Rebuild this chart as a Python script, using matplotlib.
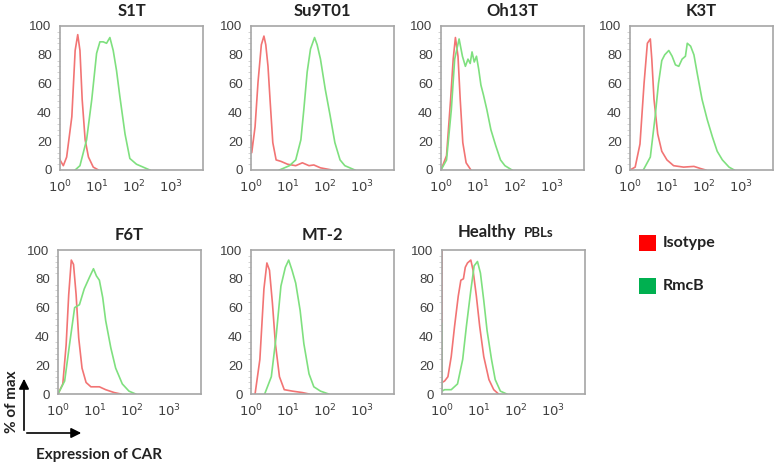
import numpy as np
import matplotlib
matplotlib.use("Agg")
import matplotlib.pyplot as plt
from matplotlib.patches import Rectangle, FancyArrowPatch
from matplotlib.ticker import FixedLocator, NullFormatter

# panel names
names = ["S1T", "Su9T01", "Oh13T", "K3T", "F6T", "MT-2", "Healthy"]

# curves: x in log10 decades, y in % of max
iso_x = [
    [0.0, 0.09, 0.18, 0.32, 0.41, 0.48, 0.54, 0.60, 0.68, 0.77, 0.90, 1.04],
    [0.0, 0.02, 0.11, 0.19, 0.28, 0.35, 0.40, 0.46, 0.52, 0.59, 0.68, 0.81, 0.99, 1.21, 1.39, 1.57, 1.70, 1.88, 2.19],
    [0.0, 0.15, 0.26, 0.33, 0.39, 0.46, 0.52, 0.59, 0.68, 0.81],
    [0.0, 0.14, 0.27, 0.38, 0.47, 0.55, 0.59, 0.65, 0.75, 0.86, 1.0, 1.18, 1.45, 1.73, 1.91, 2.05],
    [0.0, 0.13, 0.22, 0.29, 0.36, 0.42, 0.49, 0.56, 0.65, 0.76, 0.89, 1.12, 1.29, 1.52, 1.70],
    [0.11, 0.24, 0.35, 0.43, 0.50, 0.58, 0.66, 0.77, 0.90, 1.12, 1.39, 1.57],
    [0.0, 0.0, 0.07, 0.16, 0.25, 0.34, 0.44, 0.51, 0.58, 0.63, 0.69, 0.78, 0.84, 0.93, 1.02, 1.13, 1.27, 1.40, 1.53],
]
iso_y = [
    [7, 3, 9, 37, 83, 94, 83, 49, 21, 9, 2, 0],
    [24, 12, 30, 61, 87, 93, 87, 72, 47, 19, 7, 6, 4, 3, 5, 3, 3.5, 1.5, 0],
    [0, 10, 49, 77, 92, 79, 49, 19, 5, 0],
    [0, 2, 18, 60, 88, 91, 77, 49, 25, 13, 7, 3, 2, 2.5, 1, 0],
    [0, 7, 34, 69, 93, 90, 69, 39, 18, 8, 5, 5, 3, 1, 0],
    [0, 24, 73, 91, 86, 63, 35, 12, 3, 2, 1, 0],
    [100, 8, 9, 12, 26, 47, 68, 79, 80, 88, 91, 93, 86, 68, 47, 26, 10, 3, 0],
]
rmcb_x = [
    [0.41, 0.54, 0.72, 0.86, 0.99, 1.08, 1.17, 1.26, 1.35, 1.44, 1.53, 1.62, 1.76, 1.89, 2.07, 2.25, 2.43],
    [0.77, 1.04, 1.21, 1.35, 1.43, 1.52, 1.61, 1.72, 1.79, 1.88, 2.01, 2.14, 2.27, 2.41, 2.54, 2.81],
    [0.0, 0.15, 0.28, 0.37, 0.49, 0.58, 0.66, 0.73, 0.79, 0.84, 0.90, 0.96, 1.02, 1.08, 1.15, 1.24, 1.35, 1.48, 1.61, 1.73, 1.92],
    [0.36, 0.55, 0.68, 0.77, 0.86, 0.94, 1.05, 1.14, 1.23, 1.32, 1.41, 1.50, 1.55, 1.64, 1.73, 1.82, 1.95, 2.09, 2.23, 2.36, 2.50, 2.68, 2.82],
    [0.0, 0.18, 0.31, 0.45, 0.58, 0.71, 0.85, 0.96, 1.04, 1.12, 1.21, 1.29, 1.43, 1.56, 1.74, 1.92, 2.10],
    [0.37, 0.55, 0.68, 0.81, 0.93, 1.02, 1.11, 1.21, 1.33, 1.43, 1.57, 1.70, 1.88, 2.10],
    [0.0, 0.0, 0.07, 0.25, 0.42, 0.56, 0.66, 0.78, 0.87, 0.96, 1.04, 1.13, 1.22, 1.34, 1.44, 1.58, 1.75],
]
rmcb_y = [
    [0, 3, 21, 49, 81, 89, 89, 88, 92, 83, 69, 51, 25, 8, 4, 2, 0],
    [0, 3, 7, 21, 42, 68, 84, 92, 87, 77, 56, 38, 19, 7, 3, 0],
    [0, 7, 42, 77, 91, 79, 72, 77, 74, 82, 75, 79, 70, 59, 52, 42, 28, 17, 7, 3, 0],
    [0, 9, 37, 60, 76, 80, 83, 79, 73, 72, 77, 79, 88, 86, 80, 67, 49, 35, 23, 13, 7, 2, 0],
    [0, 9, 34, 60, 62, 73, 81, 87, 82, 79, 67, 51, 32, 18, 7, 2, 0],
    [0, 12, 40, 75, 88, 93, 86, 77, 58, 35, 14, 5, 2, 0],
    [49, 2, 3, 3, 7, 24, 47, 72, 89, 92, 84, 65, 44, 24, 10, 2, 0],
]

W, H = 778, 465
fig = plt.figure(figsize=(W / 100, H / 100), dpi=100)
plt.rcParams['font.family'] = ['Liberation Sans', 'DejaVu Sans']

lefts = [60, 251, 441, 630, 58, 251, 442]
tops = [26, 26, 26, 26, 250, 250, 250]
pw, ph = 143, 144

red_line = "#f27474"
green_line = "#7fe07f"
spine_c = "#a6a6a6"
tick_c = "#404040"

for i in range(7):
    l, t = lefts[i], tops[i]
    ax = fig.add_axes([l / W, 1 - (t + ph) / H, pw / W, ph / H])
    ax.plot(10 ** np.array(iso_x[i]), iso_y[i], color=red_line, lw=1.2)
    ax.plot(10 ** np.array(rmcb_x[i]), rmcb_y[i], color=green_line, lw=1.2)
    ax.set_xscale("log")
    ax.set_xlim(1, 10 ** 3.87)
    ax.set_ylim(0, 100)
    ax.set_xticks([1, 10, 100, 1000])
    ax.set_xticklabels(["$10^0$", "$10^1$", "$10^2$", "$10^3$"])
    ax.set_yticks([0, 20, 40, 60, 80, 100])
    ax.yaxis.set_minor_locator(FixedLocator(np.arange(0, 100, 4)))
    ax.xaxis.set_minor_formatter(NullFormatter())
    ax.tick_params(which="major", length=0, labelsize=9.5, labelcolor=tick_c, pad=6)
    ax.tick_params(which="minor", length=2, color="#cccccc", width=0.6)
    for s in ax.spines.values():
        s.set_color(spine_c)
        s.set_linewidth(1.2)
    if i < 6:
        ax.set_title(names[i], fontsize=12, fontweight="bold", family=["Lato", "DejaVu Sans"],
                     color="#222222", pad=7)

# split title for last panel, shared baseline
fig.text(458 / W, 1 - 237 / H, "Healthy", fontsize=12, fontweight="bold",
         family=["Lato", "DejaVu Sans"], color="#222222", ha="left", va="baseline")
fig.text(524 / W, 1 - 237 / H, "PBLs", fontsize=9.5, fontweight="bold",
         family=["Lato", "DejaVu Sans"], color="#222222", ha="left", va="baseline")

# legend
legend_labels = ["Isotype", "RmcB"]
legend_colors = ["#ff0000", "#00b050"]
legend_y = [243, 286]
for lab, col, yy in zip(legend_labels, legend_colors, legend_y):
    fig.add_artist(Rectangle((639 / W, 1 - (yy + 8) / H), 17 / W, 16 / H,
                             transform=fig.transFigure, color=col, lw=0))
    fig.text(663 / W, 1 - yy / H, lab, fontsize=11.5, fontweight="bold",
             family=["Lato", "DejaVu Sans"], color="#222222", ha="left", va="center")

# axis arrows
ox, oy = 24 / W, 1 - 433 / H
fig.add_artist(FancyArrowPatch((ox, oy), (ox, 1 - 376 / H), transform=fig.transFigure,
                               arrowstyle="-|>,head_length=6,head_width=3", color="black", lw=1.2))
fig.add_artist(FancyArrowPatch((ox, oy), (84 / W, oy), transform=fig.transFigure,
                               arrowstyle="-|>,head_length=6,head_width=3", color="black", lw=1.2))
fig.text(12 / W, 1 - 402 / H, "% of max", rotation=90, fontsize=11, fontweight="bold",
         family=["Lato", "DejaVu Sans"], color="#222222", ha="center", va="center")
fig.text(99 / W, 1 - 455 / H, "Expression of CAR", fontsize=11, fontweight="bold",
         family=["Lato", "DejaVu Sans"], color="#222222", ha="center", va="center")

fig.savefig("out.png", dpi=100)
